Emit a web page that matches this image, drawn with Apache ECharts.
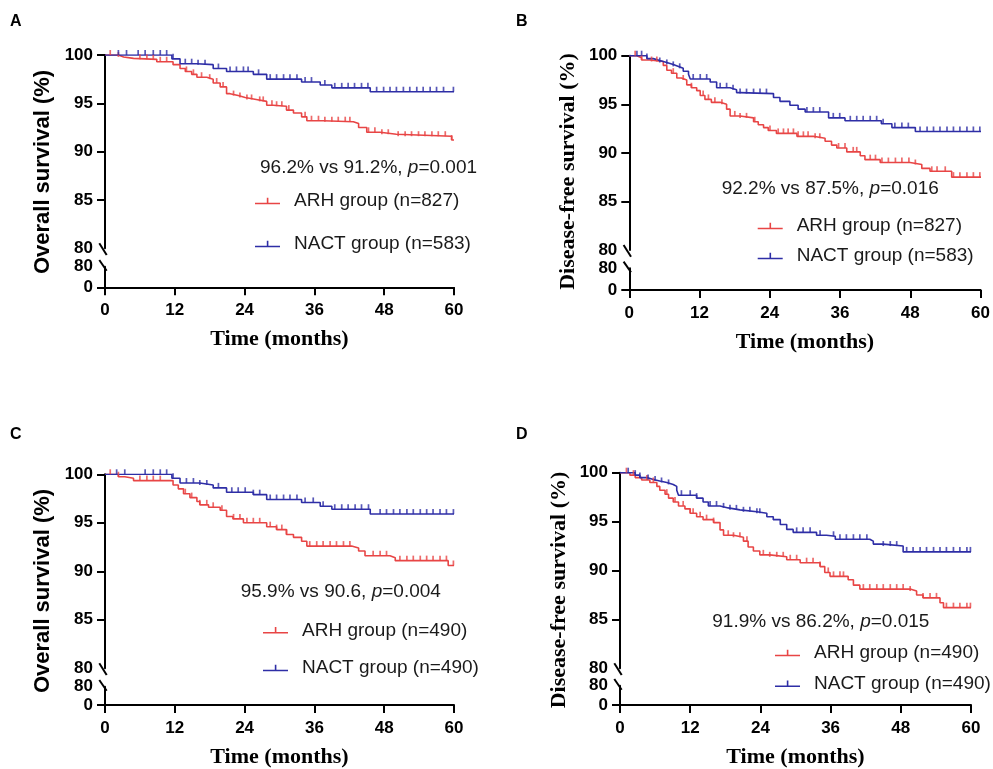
<!DOCTYPE html>
<html>
<head>
<meta charset="utf-8">
<script src="https://cdn.jsdelivr.net/npm/echarts@6/dist/echarts.min.js"></script>
<style>
  html, body { margin: 0; padding: 0; background: #fff; }
  #chart { width: 993px; height: 769px; }
</style>
</head>
<body>
<div id="chart"></div>
<script>
// ---- data ----
const xTicks = [0, 12, 24, 36, 48, 60];
const upperLabels = [80, 85, 90, 95, 100];
const lowerLabels = [0, 80];

// A: overall survival, whole cohort
const aArhTime = [0, 2.3, 3.2, 4.9, 8.9, 11.7, 12.9, 13.8, 14.9, 15.8, 17.5, 18.6, 19.8, 20.9, 21.5, 22.9, 24.1, 26.0, 27.8, 28.9, 31.2, 32.4, 33.8, 34.7, 37.5, 42.7, 43.6, 45.0, 47.3, 50.1, 59.6, 60];
const aArhSurv = [100, 99.8, 99.65, 99.55, 99.3, 99.0, 98.6, 98.3, 98.0, 97.7, 97.5, 97.1, 96.7, 96.0, 95.8, 95.6, 95.4, 95.2, 94.8, 94.7, 94.3, 94.0, 93.6, 93.2, 93.1, 92.9, 92.5, 92.0, 91.8, 91.6, 91.2, 91.2];
const aArhCensor = [0.9, 2.3, 6.0, 7.2, 8.3, 9.5, 10.6, 14.0, 15.2, 16.6, 18.0, 19.2, 20.3, 22.1, 23.2, 24.4, 25.2, 26.6, 27.2, 28.7, 29.5, 30.4, 31.6, 34.4, 35.5, 36.7, 37.8, 39.0, 40.1, 41.3, 42.1, 45.3, 46.4, 47.6, 48.7, 50.4, 51.6, 52.7, 53.9, 55.0, 56.2, 57.3, 58.5, 59.6];
const aNactTime = [0, 11.5, 12.9, 15.8, 18.6, 20.9, 25.5, 27.8, 33.8, 37.0, 39.0, 45.6, 60];
const aNactSurv = [100, 99.6, 99.1, 99.0, 98.6, 98.3, 98.0, 97.5, 97.2, 96.9, 96.6, 96.2, 96.2];
const aNactCensor = [2.3, 3.7, 5.7, 6.9, 8.3, 9.5, 10.6, 11.7, 13.8, 14.9, 16.0, 17.2, 19.5, 21.5, 22.6, 23.8, 24.6, 26.4, 28.4, 29.5, 30.7, 31.8, 33.0, 34.4, 35.5, 37.8, 39.5, 40.7, 41.8, 42.9, 44.1, 45.2, 46.7, 47.9, 49.0, 50.1, 51.3, 52.4, 53.6, 54.7, 55.9, 57.0, 58.2, 59.9];

// B: disease-free survival, whole cohort
const bArhTime = [0, 1.25, 2.1, 3.5, 5.8, 6.4, 7.2, 8.1, 8.9, 9.8, 10.6, 11.5, 12.1, 12.9, 14.0, 15.5, 16.6, 17.2, 18.9, 21.2, 22.0, 22.9, 23.7, 25.1, 28.6, 31.4, 33.4, 34.5, 35.4, 37.1, 39.4, 40.2, 42.8, 47.9, 49.9, 51.3, 55.0, 60];
const bArhSurv = [100, 99.8, 99.55, 99.4, 99.0, 98.5, 98.2, 97.7, 97.5, 97.0, 96.7, 96.4, 95.9, 95.5, 95.2, 95.0, 94.5, 93.8, 93.6, 93.2, 92.9, 92.6, 92.3, 92.0, 91.7, 91.5, 91.2, 90.8, 90.5, 90.1, 89.7, 89.3, 89.0, 88.8, 88.4, 88.1, 87.5, 87.5];
const bArhCensor = [1.0, 2.1, 3.8, 4.7, 7.5, 9.2, 10.6, 12.6, 13.5, 14.6, 15.8, 18.0, 18.9, 20.0, 21.4, 24.0, 25.4, 26.3, 27.1, 28.0, 28.8, 29.7, 30.5, 31.7, 32.5, 35.7, 36.8, 38.2, 38.8, 41.1, 42.0, 43.1, 44.2, 45.4, 46.5, 47.7, 48.8, 51.6, 52.5, 53.9, 55.3, 56.4, 57.6, 58.7, 59.8];
const bNactTime = [0, 3.0, 4.1, 5.2, 6.4, 7.5, 8.4, 9.2, 10.1, 10.4, 13.8, 14.9, 17.2, 18.3, 18.9, 24.6, 25.7, 27.4, 28.8, 30.0, 34.0, 36.8, 43.0, 44.8, 48.8, 60];
const bNactSurv = [100, 99.7, 99.5, 99.3, 99.1, 98.9, 98.7, 98.4, 98.1, 97.6, 97.3, 96.7, 96.5, 96.2, 96.1, 95.7, 95.3, 94.9, 94.5, 94.2, 93.6, 93.3, 93.0, 92.6, 92.2, 92.2];
const bNactCensor = [1.3, 2.1, 3.0, 5.2, 6.4, 7.5, 8.6, 10.9, 12.1, 13.2, 15.5, 16.6, 17.7, 18.9, 20.0, 21.2, 22.3, 23.4, 30.3, 31.4, 32.5, 34.8, 35.9, 37.7, 38.8, 39.9, 41.1, 42.2, 43.3, 45.3, 46.5, 47.6, 49.6, 50.8, 51.9, 53.0, 54.2, 55.3, 56.4, 57.6, 58.7, 59.8];

// C: overall survival, matched cohort
const cArhTime = [0, 2.3, 3.4, 4.9, 11.7, 12.6, 13.5, 14.6, 15.8, 16.3, 17.8, 19.8, 20.9, 22.0, 23.8, 27.8, 29.5, 31.2, 32.4, 33.8, 34.7, 42.4, 43.6, 44.7, 49.0, 49.9, 59.0, 60];
const cArhSurv = [100, 99.75, 99.6, 99.35, 98.9, 98.5, 98.0, 97.6, 97.2, 96.85, 96.6, 96.3, 95.65, 95.4, 95.0, 94.6, 94.3, 93.8, 93.5, 93.1, 92.6, 92.4, 92.1, 91.6, 91.4, 91.1, 90.6, 90.6];
const cArhCensor = [0.9, 2.3, 6.0, 7.2, 8.3, 9.5, 13.8, 14.9, 16.3, 17.5, 18.6, 20.1, 22.1, 23.2, 24.4, 25.5, 26.6, 28.4, 29.5, 30.4, 31.2, 35.2, 36.4, 37.5, 38.7, 39.8, 41.0, 42.1, 46.1, 47.3, 48.4, 50.7, 51.9, 53.0, 54.2, 55.3, 56.4, 57.6, 58.7, 59.9];
const cNactTime = [0, 11.5, 12.9, 16.3, 18.6, 20.9, 25.5, 27.8, 33.8, 37.0, 39.0, 45.6, 60];
const cNactSurv = [100, 99.6, 99.1, 98.9, 98.6, 98.15, 97.9, 97.4, 97.1, 96.7, 96.4, 95.9, 95.9];
const cNactCensor = [2.0, 3.4, 6.9, 8.3, 9.5, 10.6, 11.7, 14.0, 15.2, 16.3, 17.5, 19.5, 21.8, 22.9, 24.1, 25.5, 26.6, 28.4, 29.5, 30.7, 31.8, 33.0, 34.4, 35.8, 37.5, 39.5, 40.7, 41.8, 43.0, 44.1, 45.3, 47.3, 48.4, 49.6, 50.7, 51.9, 53.0, 54.2, 55.3, 56.4, 57.6, 58.7, 59.9];

// D: disease-free survival, matched cohort
const dArhTime = [0, 1.7, 2.6, 3.7, 5.1, 6.3, 6.8, 7.7, 8.3, 9.1, 10.0, 11.1, 12.0, 13.1, 14.2, 16.0, 17.1, 17.7, 19.4, 21.1, 21.9, 22.8, 23.9, 25.6, 28.5, 30.8, 34.2, 35.0, 35.9, 39.0, 39.9, 41.0, 49.6, 50.7, 51.8, 54.7, 55.3, 60];
const dArhSurv = [100, 99.75, 99.5, 99.25, 99.0, 98.6, 98.2, 97.8, 97.4, 97.0, 96.6, 96.3, 95.85, 95.5, 95.2, 94.9, 94.15, 93.6, 93.4, 93.0, 92.4, 92.0, 91.6, 91.4, 91.1, 90.8, 90.4, 89.8, 89.4, 89.05, 88.5, 88.1, 87.9, 87.5, 87.2, 86.7, 86.2, 86.2];
const dArhCensor = [1.1, 2.3, 4.6, 5.7, 8.0, 9.4, 10.8, 12.0, 12.5, 13.7, 14.8, 16.0, 18.5, 19.4, 20.5, 21.7, 24.5, 25.6, 26.8, 27.9, 29.1, 30.2, 31.9, 33.0, 34.2, 35.6, 36.5, 37.6, 38.2, 41.6, 42.7, 43.9, 45.0, 46.2, 47.3, 48.4, 49.6, 51.8, 53.0, 54.1, 55.8, 57.0, 58.1, 59.3, 59.9];
const dNactTime = [0, 2.6, 3.4, 4.6, 5.7, 6.8, 8.0, 9.1, 9.7, 10.0, 13.1, 14.2, 15.1, 17.1, 18.5, 20.5, 23.4, 25.1, 26.2, 27.4, 28.5, 29.6, 33.6, 35.3, 36.8, 42.7, 43.3, 45.0, 48.4, 60];
const dNactSurv = [100, 99.75, 99.5, 99.3, 99.15, 99.0, 98.8, 98.6, 98.2, 97.7, 97.4, 97.0, 96.6, 96.4, 96.2, 96.0, 95.85, 95.5, 95.2, 94.7, 94.2, 93.9, 93.6, 93.5, 93.2, 93.0, 92.7, 92.5, 91.9, 91.9];
const dNactCensor = [1.4, 2.6, 3.4, 4.8, 6.0, 7.1, 8.3, 10.5, 12.0, 13.1, 15.4, 16.5, 17.7, 18.8, 19.9, 21.1, 22.2, 23.4, 23.9, 30.2, 31.3, 32.5, 34.2, 36.5, 37.6, 38.7, 39.9, 41.0, 42.2, 45.0, 46.2, 47.3, 49.0, 50.1, 51.3, 52.4, 53.6, 54.7, 55.8, 57.0, 58.1, 59.3, 59.9];

// ---- layout ----
const RED = '#e84545';
const BLUE = '#2e2ea6';
const SANS = 'Liberation Sans';
const SERIF = 'Liberation Serif';

const panels = [
  { letter: 'A', lx: 10, ly: 14, left: 105, width: 349, upTop: 55, upH: 193.3, loTop: 266.7, loH: 20.6,
    yTitle: 'Overall survival (%)', yFont: SANS, tx: 43, ty: 172,
    note: ['96.2% vs 91.2%, ', '=0.001'], nx: 260, ny: 157.7,
    legLeft: 255, legTop: 189, legGap: 19,
    arms: [
      { name: 'ARH group (n=827)', t: aArhTime, s: aArhSurv, c: aArhCensor, color: RED },
      { name: 'NACT group (n=583)', t: aNactTime, s: aNactSurv, c: aNactCensor, color: BLUE }
    ] },
  { letter: 'B', lx: 516, ly: 14, left: 629.3, width: 351.7, upTop: 55.7, upH: 194.3, loTop: 268.3, loH: 21.7,
    yTitle: 'Disease-free survival (%)', yFont: SERIF, tx: 568, ty: 171.5,
    note: ['92.2% vs 87.5%, ', '=0.016'], nx: 721.7, ny: 179,
    legLeft: 757.7, legTop: 214, legGap: 6,
    arms: [
      { name: 'ARH group (n=827)', t: bArhTime, s: bArhSurv, c: bArhCensor, color: RED },
      { name: 'NACT group (n=583)', t: bNactTime, s: bNactSurv, c: bNactCensor, color: BLUE }
    ] },
  { letter: 'C', lx: 10, ly: 427, left: 105, width: 349, upTop: 474.3, upH: 194, loTop: 686.7, loH: 20,
    yTitle: 'Overall survival (%)', yFont: SANS, tx: 43, ty: 591,
    note: ['95.9% vs 90.6, ', '=0.004'], nx: 240.7, ny: 581.7,
    legLeft: 263, legTop: 618.3, legGap: 13.7,
    arms: [
      { name: 'ARH group (n=490)', t: cArhTime, s: cArhSurv, c: cArhCensor, color: RED },
      { name: 'NACT group (n=490)', t: cNactTime, s: cNactSurv, c: cNactCensor, color: BLUE }
    ] },
  { letter: 'D', lx: 516, ly: 427, left: 620, width: 351, upTop: 472.7, upH: 195.6, loTop: 685.7, loH: 21,
    yTitle: 'Disease-free survival (%)', yFont: SERIF, tx: 559.3, ty: 590,
    note: ['91.9% vs 86.2%, ', '=0.015'], nx: 712.3, ny: 611.7,
    legLeft: 775, legTop: 641, legGap: 6.7,
    arms: [
      { name: 'ARH group (n=490)', t: dArhTime, s: dArhSurv, c: dArhCensor, color: RED },
      { name: 'NACT group (n=490)', t: dNactTime, s: dNactSurv, c: dNactCensor, color: BLUE }
    ] }
];

// survival value of a step curve at time t
function survAt(times, surv, t) {
  let v = surv[0];
  for (let i = 0; i < times.length; i++) {
    if (times[i] <= t) v = surv[i];
  }
  return v;
}

const legendIcon = 'path://M0,5L25,5L25,6.6L0,6.6Z M11.8,0L13.4,0L13.4,5L11.8,5Z';
const tickLabel = { fontFamily: SANS, fontWeight: 'bold', fontSize: 17, color: '#000' };
const blackLine = { color: '#000', width: 2 };
const noteStyle = { fontFamily: SANS, fontWeight: 'normal', fontSize: 19, lineHeight: 20, color: '#1a1a1a' };

const grid = [], xAxis = [], yAxis = [], series = [], legend = [], title = [], graphic = [];

panels.forEach((p, i) => {
  const up = 2 * i, lo = 2 * i + 1;
  grid.push({ left: p.left, width: p.width, top: p.upTop, height: p.upH });
  grid.push({ left: p.left, width: p.width, top: p.loTop, height: p.loH });

  xAxis.push({ gridIndex: up, type: 'value', min: 0, max: 60, show: false });
  xAxis.push({
    gridIndex: lo, type: 'value', min: 0, max: 60, interval: 12,
    axisLine: { lineStyle: blackLine },
    axisTick: { length: 8, lineStyle: blackLine, customValues: xTicks },
    axisLabel: Object.assign({ margin: 15, customValues: xTicks }, tickLabel),
    splitLine: { show: false },
    name: 'Time (months)', nameLocation: 'middle', nameGap: 41,
    nameTextStyle: { fontFamily: SERIF, fontWeight: 'bold', fontSize: 22, color: '#000' }
  });

  yAxis.push({
    gridIndex: up, type: 'value', min: 80, max: 100, interval: 5,
    axisLine: { show: true, lineStyle: blackLine },
    axisTick: { show: true, length: 8, lineStyle: blackLine, customValues: [85, 90, 95, 100] },
    axisLabel: Object.assign({ margin: 12, customValues: upperLabels }, tickLabel),
    splitLine: { show: false }
  });
  yAxis.push({
    gridIndex: lo, type: 'value', min: 0, max: 80, interval: 80,
    axisLine: { show: true, lineStyle: blackLine },
    axisTick: { show: true, length: 8, lineStyle: blackLine, customValues: [0] },
    axisLabel: Object.assign({ margin: 12, customValues: lowerLabels }, tickLabel),
    splitLine: { show: false }
  });

  p.arms.forEach(a => {
    series.push({
      type: 'line', name: a.name, xAxisIndex: up, yAxisIndex: up,
      step: 'end', symbol: 'none', silent: true, z: 3,
      data: a.t.map((t, k) => [t, a.s[k]]),
      lineStyle: { color: a.color, width: 1.6 },
      itemStyle: { color: a.color }
    });
    series.push({
      type: 'scatter', name: a.name + ' censored', xAxisIndex: up, yAxisIndex: up, silent: true, z: 4,
      data: a.c.map(t => [t, survAt(a.t, a.s, t)]),
      symbol: 'path://M0,0H1V4H0Z', symbolSize: [1.7, 5], symbolOffset: [0, '-50%'],
      itemStyle: { color: a.color }
    });
  });

  legend.push({
    orient: 'vertical', left: p.legLeft, top: p.legTop, padding: 0,
    itemGap: p.legGap, itemWidth: 25, itemHeight: 6.6, icon: legendIcon,
    selectedMode: false,
    data: p.arms.map(a => a.name),
    textStyle: { fontFamily: SANS, fontSize: 19, lineHeight: 20, color: '#1a1a1a', padding: [4, 0, 0, 9] }
  });

  title.push({
    text: p.letter, left: p.lx, top: p.ly, padding: 0,
    textStyle: { fontFamily: SANS, fontWeight: 'bold', fontSize: 16, color: '#000' }
  });
  title.push({
    text: '{n|' + p.note[0] + '}{i|p}{n|' + p.note[1] + '}', left: p.nx, top: p.ny, padding: 0,
    textStyle: Object.assign({
      rich: { n: noteStyle, i: Object.assign({ fontStyle: 'italic' }, noteStyle) }
    }, noteStyle)
  });

  graphic.push({
    type: 'text', x: p.tx, y: p.ty, rotation: Math.PI / 2, silent: true,
    style: { text: p.yTitle, fontFamily: p.yFont, fontWeight: 'bold', fontSize: 22, fill: '#000', align: 'center', verticalAlign: 'middle' }
  });
});

const chart = echarts.init(document.getElementById('chart'));
chart.setOption({ animation: false, backgroundColor: '#fff', grid, xAxis, yAxis, series, legend, title, graphic });

// axis break marks at the 80 level of each panel
panels.forEach((p, i) => {
  const a = chart.convertToPixel({ gridIndex: 2 * i }, [0, 80]);
  const b = chart.convertToPixel({ gridIndex: 2 * i + 1 }, [0, 80]);
  graphic.push({ type: 'line', silent: true, z: 10, shape: { x1: a[0] - 5.7, y1: a[1] - 5, x2: a[0] + 1.7, y2: a[1] + 6.7 }, style: { stroke: '#000', lineWidth: 2 } });
  graphic.push({ type: 'line', silent: true, z: 10, shape: { x1: b[0] - 5.7, y1: b[1] - 6.7, x2: b[0] + 1.7, y2: b[1] + 4 }, style: { stroke: '#000', lineWidth: 2 } });
});
chart.setOption({ graphic });
</script>
</body>
</html>
